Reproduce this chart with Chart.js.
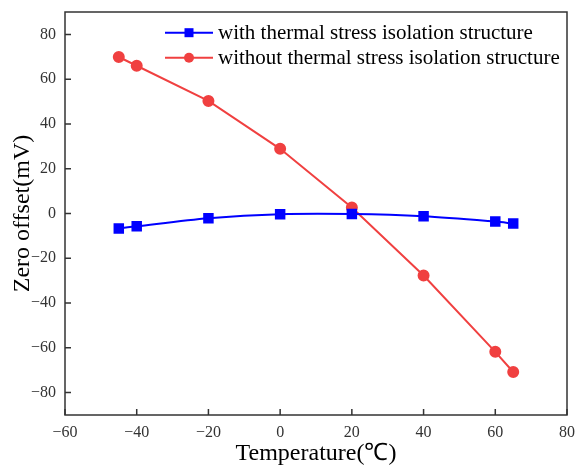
<!DOCTYPE html>
<html>
<head>
<meta charset="utf-8">
<script src="https://cdn.jsdelivr.net/npm/chart.js@4.4.0/dist/chart.umd.min.js"></script>
<style>
  html, body { margin: 0; padding: 0; background: #fff; }
  #wrap { width: 576px; height: 465px; position: relative; }
</style>
</head>
<body>
<div id="wrap"><canvas id="c" width="576" height="465"></canvas></div>
<script>
const temperatures = [-45, -40, -20, 0, 20, 40, 60, 65];
const withIsolation = [-6.7, -5.7, -2.1, -0.3, -0.2, -1.2, -3.6, -4.5];
const withoutIsolation = [69.9, 66.0, 50.3, 28.9, 2.7, -27.7, -61.8, -70.8];
const seriesLabels = ['with thermal stress isolation structure', 'without thermal stress isolation structure'];
const xTicks = [-60, -40, -20, 0, 20, 40, 60, 80];
const yTicks = [-80, -60, -40, -20, 0, 20, 40, 60, 80];

const SERIF = '"Liberation Serif", "Times New Roman", serif';
const AXIS = '#333333';

const toPts = (xs, ys) => xs.map((x, i) => ({ x: x, y: ys[i] }));
const fmt = v => String(v).replace('-', '\u2212');

const frameAndTicks = {
  id: 'frameAndTicks',
  afterDatasetsDraw(chart) {
    const { ctx, chartArea: a, scales } = chart;
    ctx.save();
    ctx.strokeStyle = AXIS;
    ctx.lineWidth = 1.5;
    ctx.strokeRect(a.left, a.top, a.right - a.left, a.bottom - a.top);
    ctx.beginPath();
    xTicks.forEach(v => {
      const px = scales.x.getPixelForValue(v);
      ctx.moveTo(px, a.bottom); ctx.lineTo(px, a.bottom - 6);
    });
    yTicks.forEach(v => {
      const py = scales.y.getPixelForValue(v);
      ctx.moveTo(a.left, py); ctx.lineTo(a.left + 6, py);
    });
    ctx.stroke();
    ctx.restore();
  }
};

const insideLegend = {
  id: 'insideLegend',
  afterDraw(chart) {
    const { ctx } = chart;
    const rows = [32.7, 57.7];
    ctx.save();
    chart.data.datasets.forEach((ds, i) => {
      const y = rows[i];
      ctx.strokeStyle = ds.borderColor;
      ctx.lineWidth = 2;
      ctx.beginPath();
      ctx.moveTo(165, y); ctx.lineTo(213, y);
      ctx.stroke();
      ctx.fillStyle = ds.backgroundColor;
      if (ds.pointStyle === 'rect') {
        ctx.fillRect(189 - 4.5, y - 4.5, 9, 9);
      } else {
        ctx.beginPath(); ctx.arc(189, y, 5, 0, Math.PI * 2); ctx.fill();
      }
      ctx.fillStyle = '#000';
      ctx.font = '21px ' + SERIF;
      ctx.textBaseline = 'middle';
      ctx.textAlign = 'left';
      ctx.fillText(ds.label, 218, y + 1);
    });
    ctx.restore();
  }
};

new Chart(document.getElementById('c'), {
  type: 'line',
  data: {
    datasets: [
      {
        label: seriesLabels[0],
        data: toPts(temperatures, withIsolation),
        borderColor: '#0000ff',
        backgroundColor: '#0000ff',
        borderWidth: 2,
        pointStyle: 'rect',
        pointRadius: 6,
        pointHoverRadius: 6,
        tension: 0.3
      },
      {
        label: seriesLabels[1],
        data: toPts(temperatures, withoutIsolation),
        borderColor: '#f04040',
        backgroundColor: '#f04040',
        borderWidth: 2,
        pointStyle: 'circle',
        pointRadius: 5,
        pointHoverRadius: 5,
        tension: 0
      }
    ]
  },
  options: {
    responsive: false,
    animation: false,
    layout: { padding: { top: 12, right: 9, left: 0, bottom: 0 } },
    plugins: { legend: { display: false }, tooltip: { enabled: false } },
    scales: {
      x: {
        type: 'linear',
        min: -60, max: 80,
        afterBuildTicks: s => { s.ticks = xTicks.map(v => ({ value: v })); },
        afterFit: s => { s.height = 50; s.paddingLeft = 0; s.paddingRight = 0; },
        grid: { display: false, drawTicks: false },
        border: { display: false },
        ticks: { padding: 8, color: AXIS, font: { family: SERIF, size: 16 }, callback: v => fmt(v), maxRotation: 0 },
        title: { display: true, text: 'Temperature(\u2103)', color: '#000', font: { family: SERIF, size: 24 }, padding: { top: -3, bottom: -3 } }
      },
      y: {
        type: 'linear',
        min: -90, max: 90,
        afterBuildTicks: s => { s.ticks = yTicks.map(v => ({ value: v })); },
        afterFit: s => { s.width = 65; s.paddingTop = 0; s.paddingBottom = 0; },
        grid: { display: false, drawTicks: false },
        border: { display: false },
        ticks: { padding: 9, color: AXIS, font: { family: SERIF, size: 16 }, callback: v => fmt(v) },
        title: { display: true, text: 'Zero offset(mV)', color: '#000', font: { family: SERIF, size: 24 }, padding: { top: 8, bottom: 0 } }
      }
    }
  },
  plugins: [frameAndTicks, insideLegend]
});
</script>
</body>
</html>
